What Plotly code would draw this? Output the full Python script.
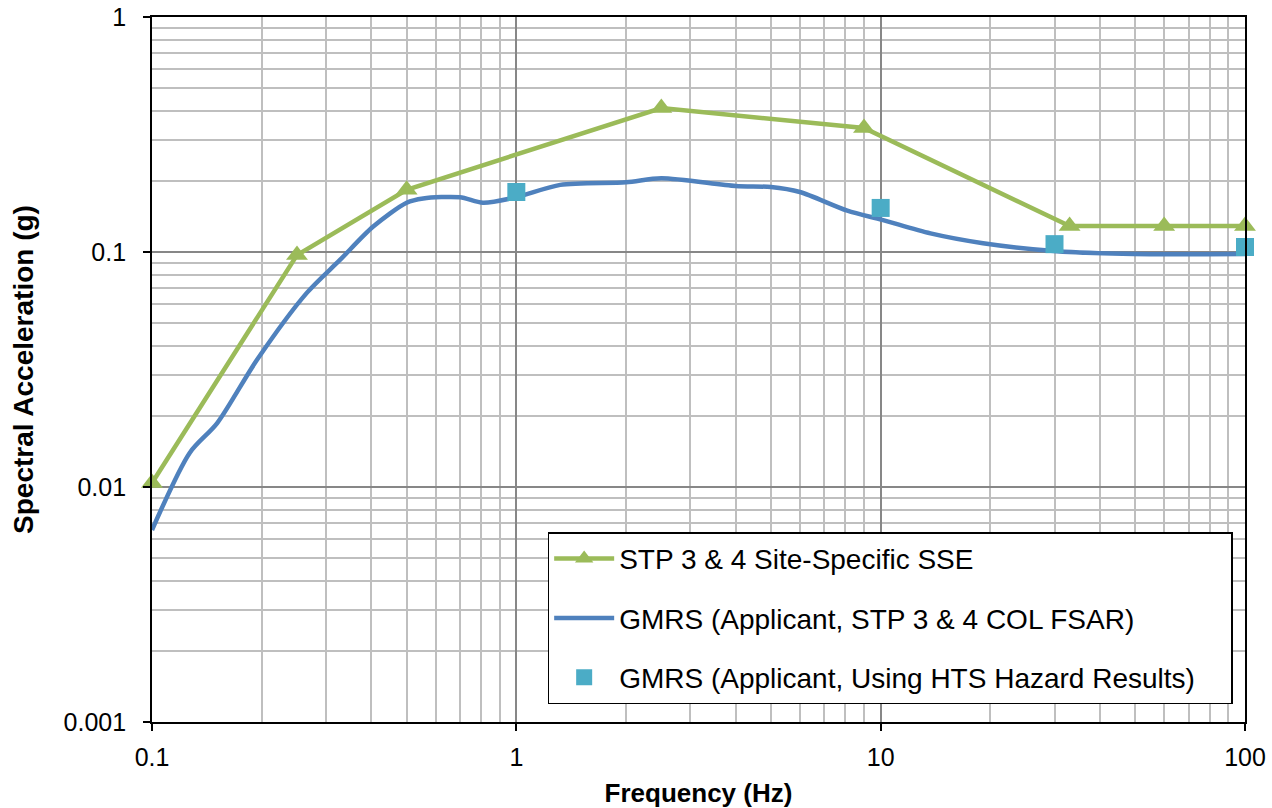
import plotly.graph_objects as go

# Data
sse_freq = [0.1, 0.25, 0.5, 2.5, 9, 33, 60, 100]
sse_acc = [0.0104, 0.097, 0.184, 0.41, 0.337, 0.129, 0.129, 0.129]

gmrs_freq = [0.1, 0.127, 0.151, 0.194, 0.266, 0.328, 0.404, 0.5, 0.555, 0.7, 0.81, 1.0,
             1.32, 2.0, 2.5, 4.0, 5.0, 6.0, 8.1, 10.1, 13.7, 19.1, 30.5, 49.3, 100]
gmrs_acc = [0.00656, 0.0140, 0.0187, 0.0347, 0.067, 0.0925, 0.128, 0.162, 0.169, 0.171, 0.162, 0.171,
            0.193, 0.198, 0.206, 0.191, 0.189, 0.180, 0.150, 0.137, 0.120, 0.109, 0.1007, 0.098, 0.098]

hts_freq = [1, 10, 30, 100]
hts_acc = [0.18, 0.154, 0.108, 0.105]

x_ticks = [0.1, 1, 10, 100]
x_labels = ["0.1", "1", "10", "100"]
y_ticks = [0.001, 0.01, 0.1, 1]
y_labels = ["0.001", "0.01", "0.1", "1"]
minor_mult = [2, 3, 4, 5, 6, 7, 8, 9]
x_minor = [m * d for d in [0.1, 1, 10] for m in minor_mult]
y_minor = [m * d for d in [0.001, 0.01, 0.1] for m in minor_mult]

FONT = "Liberation Sans, Arial"

fig = go.Figure()
fig.add_trace(go.Scatter(
    x=sse_freq, y=sse_acc, mode="lines+markers", name="STP 3 & 4 Site-Specific SSE",
    line=dict(color="#9BBB59", width=4.5),
    marker=dict(symbol="triangle-up", size=19, color="#9BBB59"),
    legendgroup="a", cliponaxis=False))
fig.add_trace(go.Scatter(
    x=gmrs_freq, y=gmrs_acc, mode="lines", name="GMRS (Applicant, STP 3 & 4 COL FSAR)",
    line=dict(color="#4F81BD", width=4.5, shape="spline", smoothing=0.8),
    legendgroup="b", cliponaxis=False))
fig.add_trace(go.Scatter(
    x=hts_freq, y=hts_acc, mode="markers",
    name="GMRS (Applicant, Using HTS Hazard Results)" + "\u00a0" * 4,
    marker=dict(symbol="square", size=18, color="#4BACC6"),
    legendgroup="c", cliponaxis=False))

axis_common = dict(
    type="log", showline=True, linecolor="black", linewidth=1.8, mirror=True,
    ticks="outside", ticklen=7, tickcolor="black", tickwidth=1.8,
    showgrid=True, gridcolor="#878787", gridwidth=1.5,
    tickfont=dict(family=FONT, size=25, color="black"),
    zeroline=False, automargin=False, ticklabeloverflow="allow",
)

fig.update_xaxes(**axis_common, range=[-1, 2], tickmode="array", tickvals=x_ticks, ticktext=x_labels,
                 ticklabelstandoff=5,
                 minor=dict(showgrid=True, gridcolor="#BFBFBF", gridwidth=1.5, ticks="",
                            tickmode="array", tickvals=x_minor),
                 title=dict(text="<b>Frequency (Hz)</b>", font=dict(family=FONT, size=26, color="black"), standoff=15))
fig.update_yaxes(**axis_common, range=[-3, 0], tickmode="array", tickvals=y_ticks, ticktext=y_labels,
                 ticklabelstandoff=12,
                 minor=dict(showgrid=True, gridcolor="#BFBFBF", gridwidth=1.5, ticks="",
                            tickmode="array", tickvals=y_minor),
                 title=dict(text="<b>Spectral Acceleration (g)</b>", font=dict(family=FONT, size=28, color="black"), standoff=22))

fig.update_layout(
    width=1272, height=808,
    margin=dict(l=152, r=27, t=17, b=86),
    paper_bgcolor="white", plot_bgcolor="white",
    font=dict(family=FONT, color="black"),
    legend=dict(x=0.362, y=0.269, xanchor="left", yanchor="top",
                bgcolor="white", bordercolor="black", borderwidth=1.5,
                font=dict(family=FONT, size=28, color="black"), tracegroupgap=20,
                itemwidth=60),
)

fig.write_html("out.html", config={"displayModeBar": False},
               post_script="document.body.style.margin='0';document.body.style.overflow='hidden';")
